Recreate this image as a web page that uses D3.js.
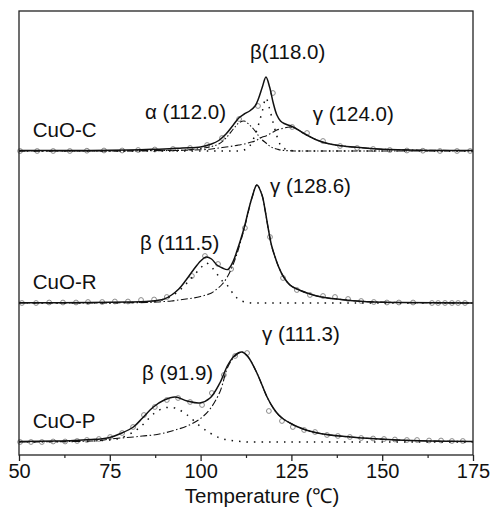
<!DOCTYPE html>
<html><head><meta charset="utf-8">
<script src="https://cdn.jsdelivr.net/npm/d3@7"></script>
<style>body{margin:0;background:#fff}svg text{font-family:"Liberation Sans",Arial,sans-serif;fill:#111}</style>
</head><body><svg id="c" width="490" height="508"></svg>
<script>
// ---------- data ----------
const xTicks = [50, 75, 100, 125, 150, 175];
const xMinorTicks = [62.5, 87.5, 112.5, 137.5, 162.5];
const xTitle = "Temperature (\u2103)";
const panelNames = ["CuO-C", "CuO-R", "CuO-P"];
const panelOffsets = [304, 152, 13]; // stacking offsets (a.u.)

// CuO-C
const cT = [50,70,80,85,90,95,100,103,105,107,109,110.5,112,113.5,115,116,117,118,119,120,121,122,123,124.5,126,128,130,132,135,138,142,146,150,160,175];
const cTotal = [0.5,0.5,1,1.5,2,3,4,7,10.5,17,26,33,37,40,45,53,64,74,64,48,36,30,27.5,25.5,23,18.5,14.5,11,7.5,5.5,4,2.8,1.8,0.8,0.5];
const cAlpha = [0,0,0,0.2,0.4,0.8,2.5,4.5,7,13,22,28,30,26,20,15,11,8,5,3,2,1,0.5,0.3,0,0,0,0,0,0,0,0,0,0,0];
const cBeta  = [0,0,0,0,0,0,0,0,0,0,0,0,1,5,16,27,40,53,42,28,15,6,2.5,0.8,0.2,0,0,0,0,0,0,0,0,0,0];
const cGamma = [0,0,0.2,0.4,0.6,0.8,1.2,2,3,4,5,6,7,8.5,10,12,14,15,17,19,21,22,23,24,23,18.5,14.5,11,7.5,5.5,4,2.8,1.8,0.8,0.5];
const cPtsT = [50.3,55,59.4,64,68.7,73.4,78.4,82.8,87.4,92.4,97.1,101.8,105.9,110.6,115.8,119.9,125.2,129.3,133.7,138.4,143.1,147.5,152.1,156.8,161.2,165.9,170.6,174.2];
const cPtsV = [0,0,0,0,0.3,0.5,0.5,1,1.5,2,3,6,13,32,45,58,24,18,10,5,3,2,1,0.5,0.3,0,0,0];

// CuO-R
const rT = [50,70,80,85,88,90,92,94,96,98,100,101.5,103,104.5,106,107.5,109,110,111,112.2,113.2,114.2,115.5,116.9,117.8,118.6,119.5,120.5,121.5,122.7,124.6,126.5,129.3,132,135,140,145,155,175];
const rTotal = [0.3,0.5,1,1.5,2.5,4,8,14,23,33,42,46,44,38,35,33.5,42,52,63,78,93,106,118,108,92,75,58,46,36,27,18,14,10,7,5,3,1.5,0.5,0];
const rBeta  = [0,0,0.3,1,2,4,7,12,19,27,35,40,36,29,22,17,9,5,2.5,1,0.5,0,0,0,0,0,0,0,0,0,0,0,0,0,0,0,0,0,0];
const rGamma = [0,0,0.3,0.5,1,1.5,2,3,4,5,6.5,8,10,14,19,27,39,49,61,77,92,106,118,108,92,75,58,46,36,27,18,14,10,7,5,3,1.5,0.5,0];
const rPtsT = [50.8,54.7,58.3,62.1,65.7,69,72.9,76.4,80,83.6,87.2,90.7,97.6,101.2,104.8,108.4,112.2,119.1,122.7,126.5,130.1,133.7,137,140.6,144.2,147.7,151.3,154.6,158.5,163.7,165.4,167.3,169.2,170.9,172.8];
const rPtsV = [0,0,0.5,0.5,0.5,1,1,1.5,1.5,3,3.5,6,27,47,39,34,75,66,25,13,8,7,6,4,2,1,0.5,0.5,0.5,0,0,0,0,0,0];

// CuO-P
const pT = [50,60,65,70,72.5,75,78,81.5,84,87,90,93,96.3,99.8,102.6,105.3,107.5,109.5,111.4,113.1,115.5,118.3,120,121.5,123,124.6,126.5,129,131,135.6,144.7,154,163,175];
const pTotal = [0.5,1,1.5,2.5,3,4.5,8.5,15,24,35,42,45,41,39,44,59,77,87,90,85,69,45,34,27,22.5,19,15.5,12,10,7,4,2,1,0.5];
const pBeta  = [0,0.3,0.6,1,1.5,2,4,10,17,28,34,34,27,16,9,4,2,1,0.5,0,0,0,0,0,0,0,0,0,0,0,0,0,0,0];
const pGamma = [0,0.3,0.5,1,1.5,3,4,5,6,7,9,12,16,23,33,50,75,86,90,85,69,45,34,27,22.5,19,15.5,12,10,7,4,2,1,0.5];
const pPtsT = [50.3,53.3,56.3,59.4,62.7,66,68.7,72,75.1,78.4,81.4,84.4,87.4,90.7,93.8,97.1,100.4,103.1,106.4,109.5,112.8,118.8,122.4,125.4,128.5,131.5,134.8,137.8,141.1,144.2,147.5,150.5,153.5,156.8,159.6,162.9,166.2,169.2,172.2];
const pPtsV = [0,0,0,0.5,0.5,1,2,3,5,9,15,27,35,42,44,40,37,49,67,86,89,31,21,15,12,10,7,6,5,4,3.5,3,2.5,2,2,1.5,1.5,1,1];

// peak labels
const labelText = ["\u03b2(118.0)","\u03b1 (112.0)","\u03b3 (124.0)","\u03b3 (128.6)","\u03b2 (111.5)","\u03b3 (111.3)","\u03b2 (91.9)"];
const labelT    = [113.6, 84.7, 130.9, 119.1, 83.3, 116.9, 83.9];
const labelV    = [396, 336, 334, 262, 205, 114, 75];

// ---------- drawing ----------
const W = 490, H = 508;
const m = {l:19, r:17, t:11, b:53};
const svg = d3.select("#c");
const x = d3.scaleLinear().domain([50,175]).range([m.l, W-m.r]);
const y = d3.scaleLinear().domain([0,444]).range([H-m.b, m.t]);

const styles = {
  total:{dash:null, w:1.5},
  dot:{dash:"1.5,6", w:1.5},
  dd:{dash:"7,2.5,1.5,2.5", w:1.1},
  ddd:{dash:"6,2.2,1.4,2.2,1.4,2.2", w:1.1}
};
function drawCurve(T, V, off, st){
  const pts = T.map((t,i)=>[t, V[i]]);
  const line = d3.line().x(d=>x(d[0])).y(d=>y(d[1]+off)).curve(d3.curveCatmullRom.alpha(0.5));
  svg.append("path").datum(pts).attr("d", line)
    .attr("fill","none").attr("stroke","#111").attr("stroke-width", st.w)
    .attr("stroke-dasharray", st.dash).attr("stroke-linecap","butt");
}
function drawPts(T, V, off){
  svg.append("g").selectAll("circle").data(T.map((t,i)=>[t,V[i]])).join("circle")
    .attr("cx", d=>x(d[0])).attr("cy", d=>y(d[1]+off)).attr("r", 2.4)
    .attr("fill","none").attr("stroke","#8a8a8a").attr("stroke-width",1);
}

const panels = [
  {T:cT, tot:cTotal, comps:[[cAlpha,"ddd"],[cBeta,"dot"],[cGamma,"dd"]], pT:cPtsT, pV:cPtsV},
  {T:rT, tot:rTotal, comps:[[rBeta,"dot"],[rGamma,"dd"]], pT:rPtsT, pV:rPtsV},
  {T:pT, tot:pTotal, comps:[[pBeta,"dot"],[pGamma,"dd"]], pT:pPtsT, pV:pPtsV}
];
panels.forEach((p,i)=>{
  const off = panelOffsets[i];
  drawPts(p.pT, p.pV, off);
  p.comps.forEach(c=>drawCurve(p.T, c[0], off, styles[c[1]]));
  drawCurve(p.T, p.tot, off, styles.total);
  svg.append("text").attr("x", x(53.8)).attr("y", y(off+14)).attr("font-size",20.5).text(panelNames[i]);
});

labelText.forEach((t,i)=>{
  svg.append("text").attr("x", x(labelT[i])).attr("y", y(labelV[i])).attr("font-size",20.5).text(t);
});

// frame
svg.append("rect").attr("x",m.l).attr("y",m.t).attr("width",W-m.l-m.r).attr("height",H-m.t-m.b)
  .attr("fill","none").attr("stroke","#222").attr("stroke-width",1.3);

// x axis
const ax = svg.append("g").attr("transform",`translate(0,${H-m.b})`)
  .call(d3.axisBottom(x).tickValues(xTicks).tickSize(6).tickPadding(3).tickFormat(d3.format("d")));
ax.select(".domain").remove();
ax.selectAll("line").attr("stroke","#222").attr("stroke-width",1.3);
ax.selectAll("text").attr("font-size",20).attr("fill","#111");
const axm = svg.append("g").attr("transform",`translate(0,${H-m.b})`)
  .call(d3.axisBottom(x).tickValues(xMinorTicks).tickSize(3).tickFormat(""));
axm.select(".domain").remove();
axm.selectAll("line").attr("stroke","#222").attr("stroke-width",1.2);

svg.append("text").attr("x", 262).attr("y", H-5).attr("text-anchor","middle")
  .attr("font-size",20.5).text(xTitle);
</script></body></html>
